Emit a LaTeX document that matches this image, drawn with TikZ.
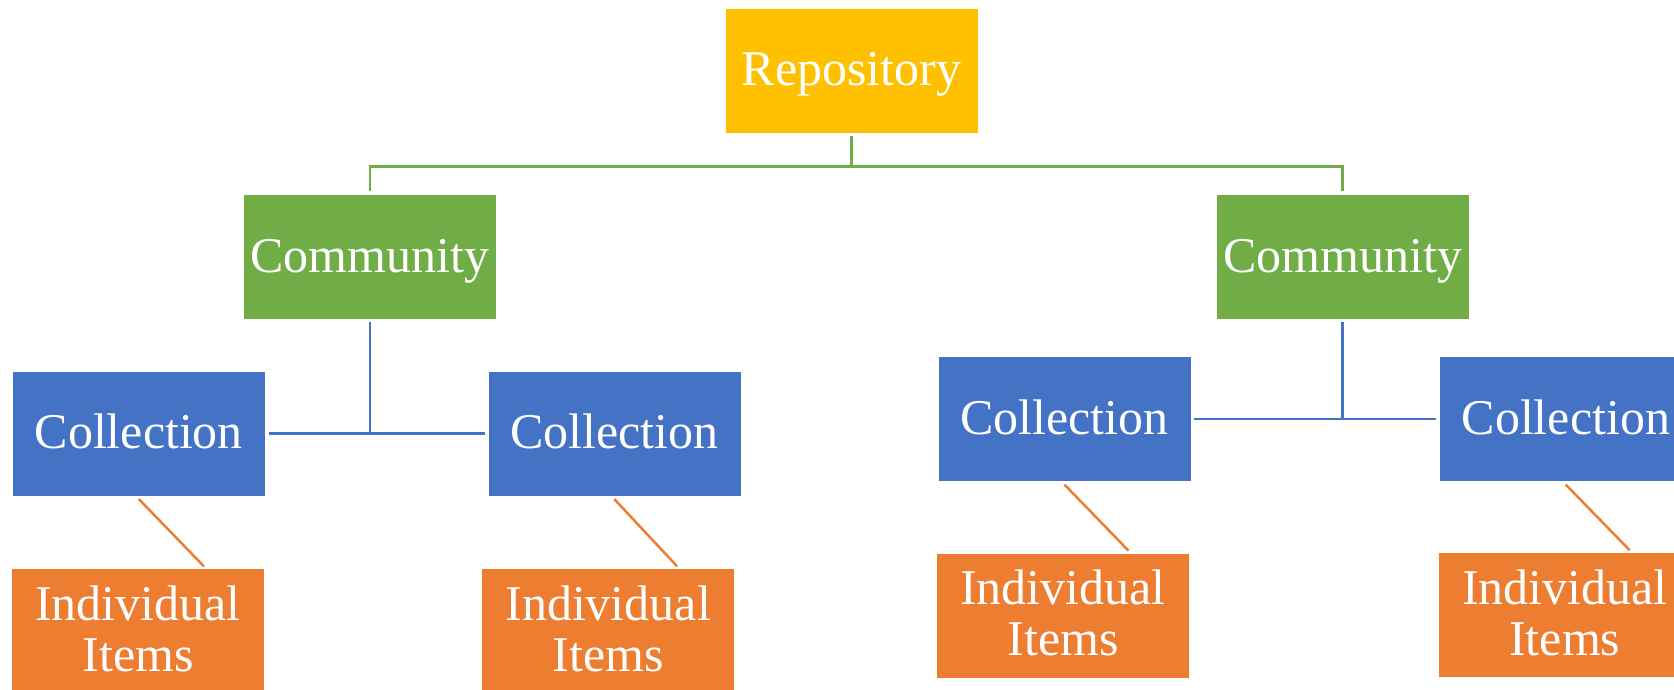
\documentclass[tikz,border=0pt]{standalone}
\usepackage{fontspec}
\setmainfont{Liberation Serif}
\definecolor{repoY}{HTML}{FFC000}
\definecolor{comG}{HTML}{70AD47}
\definecolor{colB}{HTML}{4472C4}
\definecolor{itO}{HTML}{ED7D31}
\newcommand{\dpfix}{\rule[-6pt]{0pt}{6pt}}
\tikzset{
  box/.style={rectangle, minimum width=253pt, minimum height=125pt, inner sep=0pt,
    text=white, font=\fontsize{50}{51}\selectfont, draw=white, line width=0.6pt},
  onebox/.style={box, text height=36pt, text depth=5pt},
  repobox/.style={onebox, fill=repoY},
  combox/.style={onebox, fill=comG},
  colbox/.style={onebox, fill=colB},
  itbox/.style={box, fill=itO, align=center},
  gline/.style={draw=comG, line width=2.5pt},
  bline/.style={draw=colB, line width=2.5pt},
  oline/.style={draw=itO, line width=2.5pt},
}
\begin{document}
\begin{tikzpicture}[x=1pt,y=1pt]
\useasboundingbox (0,0) rectangle (1674,-690);
\clip (0,0) rectangle (1674,-690);
\node[repobox] (repo) at (851.5,-70.5) {Repository};
\node[combox] (com1) at (369.8,-256.5) {Community};
\node[combox] (com2) at (1342.5,-256.5) {Community};
\node[colbox] (col1) at (138.8,-433.3) {Collection};
\node[colbox] (col2) at (614.3,-433.3) {Collection};
\node[colbox] (col3) at (1064.5,-418.8) {Collection};
\node[colbox] (col4) at (1565.8,-418.8) {Collection};
\node[itbox] (it1) at (138,-631.2) {Individual\\Items\dpfix};
\node[itbox] (it2) at (608.2,-631.2) {Individual\\Items\dpfix};
\node[itbox] (it3) at (1063,-615.5) {Individual\\Items\dpfix};
\node[itbox] (it4) at (1564.8,-615.2) {Individual\\Items\dpfix};
% green connectors
\coordinate (gbus) at ([yshift=-33pt]repo.south);
\draw[gline] ([yshift=-3pt]repo.south) -- (gbus);
\draw[gline] (gbus) -| ([yshift=3pt]com1.north);
\draw[gline] (gbus) -| ([yshift=3pt]com2.north);
% blue connectors
\draw[bline] ([yshift=-3pt]com1.south) -- (com1.south |- col1.east);
\draw[bline] ([xshift=3pt]col1.east) -- ([xshift=-3pt]col2.west);
\draw[bline] ([yshift=-3pt]com2.south) -- (com2.south |- col3.east);
\draw[bline] ([xshift=3pt]col3.east) -- ([xshift=-3pt]col4.west);
% orange connectors
\draw[oline] ([yshift=-3pt]col1.south) -- ([xshift=66pt,yshift=2pt]it1.north);
\draw[oline] ([yshift=-3pt]col2.south) -- ([xshift=69pt,yshift=2pt]it2.north);
\draw[oline] ([yshift=-3pt]col3.south) -- ([xshift=65.5pt,yshift=2pt]it3.north);
\draw[oline] ([yshift=-3pt]col4.south) -- ([xshift=65pt,yshift=2pt]it4.north);
\end{tikzpicture}
\end{document}
